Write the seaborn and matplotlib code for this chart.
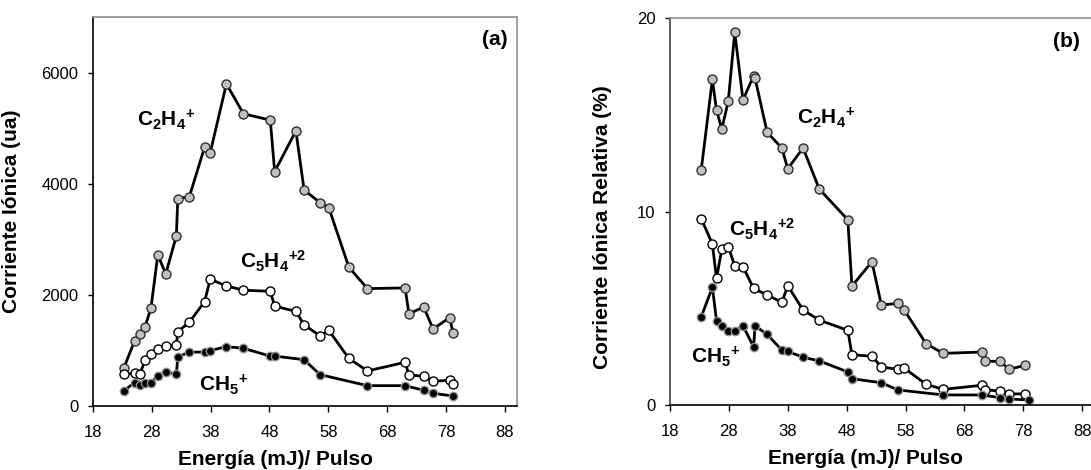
import matplotlib
matplotlib.use('Agg')
import matplotlib.pyplot as plt
import seaborn as sns
import numpy as np

# Panel (a): corriente ionica (ua)
x_c2h4_a = [23.3, 25.1, 26.0, 26.9, 27.9, 29.05, 30.4, 32.2, 32.45, 34.4, 37.0, 37.95, 40.7, 43.6,
            48.15, 48.9, 52.5, 53.9, 56.6, 58.1, 61.5, 64.65, 71.05, 71.7, 74.2, 75.8, 78.6, 79.2]
y_c2h4_a = [690, 1171, 1292, 1429, 1771, 2721, 2379, 3063, 3736, 3766, 4662, 4559, 5802, 5262,
            5148, 4222, 4955, 3887, 3664, 3568, 2499, 2114, 2126, 1658, 1784, 1387, 1591, 1315]

x_c5h4_a = x_c2h4_a
y_c5h4_a = [571, 589, 571, 829, 931, 1021, 1075, 1093, 1339, 1508, 1880, 2283, 2162, 2085,
            2065, 1799, 1703, 1460, 1264, 1360, 856, 631, 787, 559, 535, 445, 463, 391]

x_ch5_a = [23.3, 25.1, 26.0, 26.9, 27.9, 29.05, 30.4, 32.2, 32.45, 34.4, 37.0, 37.95, 40.7, 43.6,
           48.15, 48.9, 53.9, 56.6, 64.65, 71.05, 74.2, 75.8, 79.2]
y_ch5_a = [276, 420, 378, 420, 420, 546, 613, 571, 889, 967, 973, 997, 1069, 1039,
           898, 898, 834, 565, 366, 366, 283, 229, 180]

# Panel (b): corriente ionica relativa (%)
x_c2h4_b = [23.3, 25.2, 25.9, 26.8, 27.9, 29.0, 30.4, 32.2, 32.45, 34.5, 37.0, 38.0, 40.6, 43.35,
            48.2, 48.9, 52.3, 53.9, 56.7, 57.8, 61.5, 64.4, 71.0, 71.5, 74.0, 75.6, 78.3]
y_c2h4_b = [12.14, 16.84, 15.24, 14.27, 15.72, 19.27, 15.77, 17.03, 16.9, 14.10, 13.29, 12.22, 13.29, 11.17,
            9.58, 6.15, 7.41, 5.17, 5.26, 4.90, 3.17, 2.67, 2.74, 2.26, 2.26, 1.85, 2.05]

x_c5h4_b = [23.3, 25.2, 25.9, 26.8, 27.9, 29.0, 30.4, 32.2, 34.5, 37.0, 38.0, 40.6, 43.35,
            48.2, 48.9, 52.3, 53.9, 56.7, 57.8, 61.5, 64.4, 71.0, 71.5, 74.0, 75.6, 78.3]
y_c5h4_b = [9.64, 8.33, 6.55, 8.05, 8.18, 7.20, 7.15, 6.03, 5.69, 5.31, 6.17, 4.91, 4.39,
            3.86, 2.60, 2.52, 1.96, 1.85, 1.90, 1.07, 0.81, 1.02, 0.79, 0.72, 0.58, 0.57]

x_ch5_b = [23.3, 25.2, 25.9, 26.8, 27.9, 29.0, 30.4, 32.2, 32.45, 34.5, 37.0, 38.0, 40.6, 43.35,
           48.2, 48.9, 53.9, 56.7, 64.4, 71.0, 74.0, 75.6, 79.0]
y_ch5_b = [4.55, 6.09, 4.36, 4.09, 3.81, 3.81, 4.09, 3.01, 4.09, 3.65, 2.84, 2.77, 2.47, 2.28,
           1.71, 1.36, 1.15, 0.78, 0.52, 0.52, 0.38, 0.31, 0.26]

x_ticks = [18, 28, 38, 48, 58, 68, 78, 88]
y_ticks_a = [0, 2000, 4000, 6000]
y_ticks_b = [0, 10, 20]

sns.set_style('white')
plt.rcParams['font.family'] = ['Liberation Sans', 'DejaVu Sans']
plt.rcParams['text.color'] = 'black'
plt.rcParams['axes.labelcolor'] = 'black'
plt.rcParams['mathtext.fontset'] = 'custom'
plt.rcParams['mathtext.bf'] = 'Liberation Sans:bold'
plt.rcParams['mathtext.rm'] = 'Liberation Sans'
plt.rcParams['mathtext.it'] = 'Liberation Sans:italic'

fig = plt.figure(figsize=(10.91, 4.70), dpi=100)
ax_a = fig.add_axes([0.085, 0.1362, 0.3886, 0.827])
ax_b = fig.add_axes([0.6141, 0.1383, 0.3886, 0.8228])

estilos = {
    'gris': dict(markerfacecolor='#c0c0c0', markeredgecolor='#303030', markersize=6.5),
    'blanco': dict(markerfacecolor='white', markeredgecolor='black', markersize=6.5),
    'negro': dict(markerfacecolor='black', markeredgecolor='#909090', markersize=6),
}


def dibujar(ax, x, y, estilo):
    sns.lineplot(x=x, y=y, ax=ax, color='black', lw=2, marker='o', sort=False,
                 estimator=None, markeredgewidth=1, **estilos[estilo])


dibujar(ax_a, x_c2h4_a, y_c2h4_a, 'gris')
dibujar(ax_a, x_c5h4_a, y_c5h4_a, 'blanco')
dibujar(ax_a, x_ch5_a, y_ch5_a, 'negro')

dibujar(ax_b, x_c2h4_b, y_c2h4_b, 'gris')
dibujar(ax_b, x_c5h4_b, y_c5h4_b, 'blanco')
dibujar(ax_b, x_ch5_b, y_ch5_b, 'negro')

ax_a.set_ylim(0, 7000)
ax_a.set_yticks(y_ticks_a)
ax_b.set_ylim(0, 20)
ax_b.set_yticks(y_ticks_b)

for ax in (ax_a, ax_b):
    ax.set_xlim(18, 90)
    ax.set_xticks(x_ticks)
    ax.tick_params(axis='both', direction='out', width=1, labelsize=12,
                   colors='black', labelcolor='black', bottom=True, left=True)
    ax.tick_params(axis='x', length=4.5, pad=9)
    ax.tick_params(axis='y', length=3.5, pad=7)
    ax.set_xlabel('Energía (mJ)/ Pulso', fontsize=15, fontweight='bold')
    ax.spines['left'].set_color('black')
    ax.spines['bottom'].set_color('black')
    ax.spines['top'].set_color('#909090')
    ax.spines['right'].set_color('#909090')
    for s in ax.spines.values():
        s.set_linewidth(1.2)
    ax.grid(False)

ax_b.spines['left'].set_color('#404040')

ax_a.set_ylabel('Corriente Iónica (ua)', fontsize=15, fontweight='bold')
ax_b.set_ylabel('Corriente Iónica Relativa (%)', fontsize=15, fontweight='bold')

ax_a.xaxis.set_label_coords(0.43, -0.113)
ax_b.xaxis.set_label_coords(0.46, -0.1135)
ax_a.yaxis.set_label_coords(-0.169, 0.5)
ax_b.yaxis.set_label_coords(-0.137, 0.46)

txt = dict(fontsize=15, fontweight='bold', ha='center', va='center')
ax_a.text(30.5, 5150, r'C$_\mathbf{2}$H$_\mathbf{4}$$^\mathbf{+}$', **txt)
ax_a.text(48.7, 2600, r'C$_\mathbf{5}$H$_\mathbf{4}$$^\mathbf{+2}$', **txt)
ax_a.text(40.2, 380, r'CH$_\mathbf{5}$$^\mathbf{+}$', **txt)
ax_a.text(86.3, 6600, '(a)', fontsize=15, fontweight='bold', ha='center', va='center')

ax_b.text(44.5, 14.85, r'C$_\mathbf{2}$H$_\mathbf{4}$$^\mathbf{+}$', **txt)
ax_b.text(33.6, 9.1, r'C$_\mathbf{5}$H$_\mathbf{4}$$^\mathbf{+2}$', **txt)
ax_b.text(25.8, 2.5, r'CH$_\mathbf{5}$$^\mathbf{+}$', **txt)
ax_b.text(85.4, 18.8, '(b)', fontsize=15, fontweight='bold', ha='center', va='center')

fig.savefig('out.png', dpi=100)
